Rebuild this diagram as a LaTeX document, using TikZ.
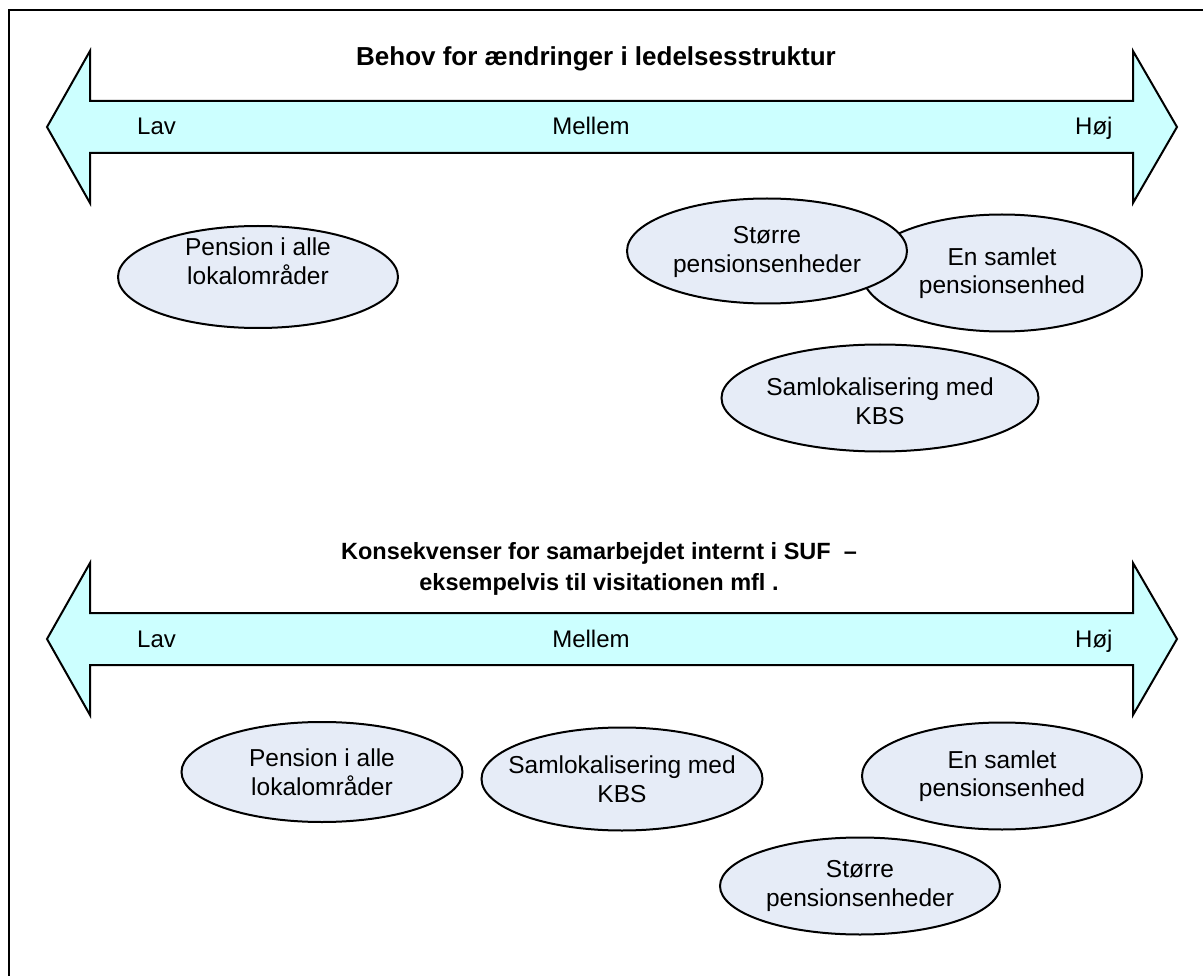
\documentclass[tikz,border=0pt]{standalone}
\usepackage{fontspec}
\setmainfont{Liberation Sans}
\usetikzlibrary{shapes.geometric}
\definecolor{shaftfill}{HTML}{CCFFFF}
\definecolor{ovalfill}{HTML}{E6ECF7}
\begin{document}
\begin{tikzpicture}[x=1pt,y=-1pt,
  oval/.style={ellipse, draw=black, line width=2pt, fill=ovalfill, inner sep=0pt},
  ovaltext/.style={align=center, font=\fontsize{24.5}{28.5}\selectfont, inner sep=0pt},
  scalearrow/.style={draw=black, line width=2pt, fill=shaftfill, line join=miter},
  tick/.style={font=\fontsize{24}{28}\selectfont, inner sep=0pt},
  heading/.style={font=\bfseries\fontsize{26}{30}\selectfont, align=center, inner sep=0pt},
  subheading/.style={font=\bfseries\fontsize{23.5}{31}\selectfont, align=center, inner sep=0pt}]

\useasboundingbox (0,0) rectangle (1203,976);
\fill[white] (0,0) rectangle (1203,976);
\draw[line width=2pt] (9,976) -- (9,10) -- (1203,10);

% upper scale
\node[heading, anchor=base] (t1) at (596,66) {Behov for ændringer i ledelsesstruktur};
\draw[scalearrow] (47,127) -- (90,51) -- (90,101) -- (1133,101) -- (1133,51) -- (1177,127)
  -- (1133,203) -- (1133,153) -- (90,153) -- (90,203) -- cycle;
\node[tick, anchor=base west] (lav1) at (137,135) {Lav};
\node[tick, anchor=base] (mid1) at (591,135) {Mellem};
\node[tick, anchor=base west] (hoj1) at (1075,135) {Høj};

\node[oval, minimum width=280pt, minimum height=102pt] (p1) at (258,277) {};
\node[ovaltext] (p1t) at (258,261) {Pension i alle\\lokalområder};
\node[oval, minimum width=280pt, minimum height=117pt] (e1) at (1002,273) {};
\node[ovaltext] (e1t) at (1002,273) {En samlet\\pensionsenhed};
\node[oval, minimum width=280pt, minimum height=105pt] (s1) at (767,251) {};
\node[ovaltext] (s1t) at (767,252) {Større\\pensionsenheder};
\node[oval, minimum width=317pt, minimum height=107pt] (k1) at (880,398) {};
\node[ovaltext] (k1t) at (880,401) {Samlokalisering med\\KBS};

% lower scale
\node[subheading] (t2) at (599,569) {Konsekvenser for samarbejdet internt i SUF\ \ –\\eksempelvis til visitationen mfl .};
\draw[scalearrow] (47,639) -- (90,563) -- (90,613) -- (1133,613) -- (1133,563) -- (1177,639)
  -- (1133,715) -- (1133,665) -- (90,665) -- (90,715) -- cycle;
\node[tick, anchor=base west] (lav2) at (137,647) {Lav};
\node[tick, anchor=base] (mid2) at (591,647) {Mellem};
\node[tick, anchor=base west] (hoj2) at (1075,647) {Høj};

\node[oval, minimum width=281pt, minimum height=100pt] (p2) at (322,772) {};
\node[ovaltext] (p2t) at (322,772) {Pension i alle\\lokalområder};
\node[oval, minimum width=281pt, minimum height=103pt] (k2) at (622,779) {};
\node[ovaltext] (k2t) at (622,779) {Samlokalisering med\\KBS};
\node[oval, minimum width=280pt, minimum height=107pt] (e2) at (1002,776) {};
\node[ovaltext] (e2t) at (1002,776) {En samlet\\pensionsenhed};
\node[oval, minimum width=280pt, minimum height=97pt] (s2) at (860,886) {};
\node[ovaltext] (s2t) at (860,886) {Større\\pensionsenheder};
\end{tikzpicture}
\end{document}
